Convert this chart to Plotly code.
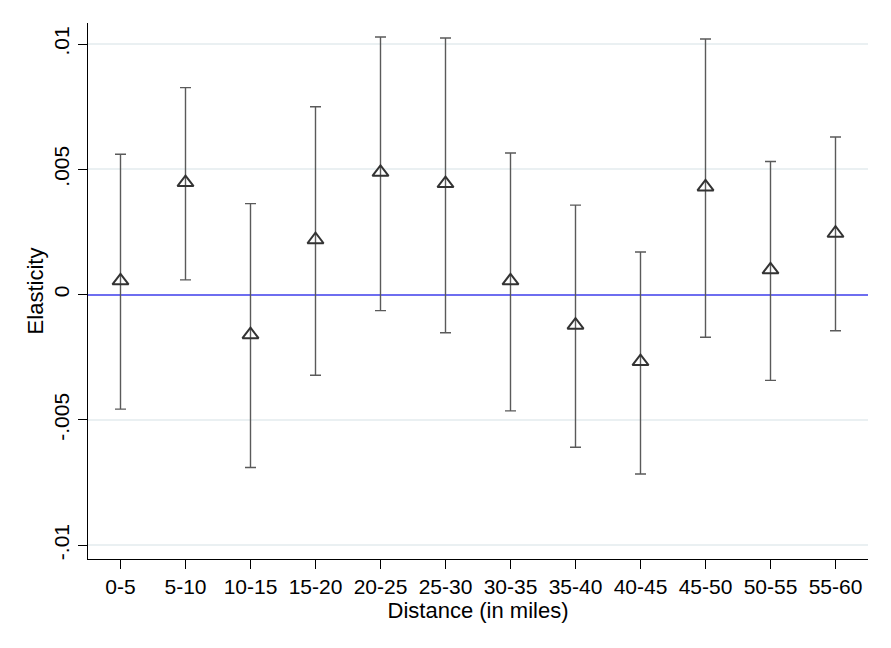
import plotly.graph_objects as go

# distance bins and estimated elasticities with 95% bounds
distance_bins = ['0-5', '5-10', '10-15', '15-20', '20-25', '25-30',
                 '30-35', '35-40', '40-45', '45-50', '50-55', '55-60']
estimate = [0.00055, 0.00447, -0.0016, 0.00219, 0.00488, 0.00443,
            0.00055, -0.00122, -0.00267, 0.0043, 0.00099, 0.00245]
upper = [0.0056, 0.00826, 0.00363, 0.0075, 0.01028, 0.01024,
         0.00565, 0.00357, 0.0017, 0.0102, 0.00531, 0.00629]
lower = [-0.00457, 0.00059, -0.0069, -0.00322, -0.00064, -0.00152,
         -0.00464, -0.00609, -0.00716, -0.0017, -0.00342, -0.00144]

y_ticks = [-0.01, -0.005, 0, 0.005, 0.01]
y_tick_labels = ['-.01', '-.005', '0', '.005', '.01']

err_plus = [h - e for h, e in zip(upper, estimate)]
err_minus = [e - l for e, l in zip(estimate, lower)]

fig = go.Figure()
fig.add_trace(go.Scatter(
    x=distance_bins, y=estimate, mode='markers',
    marker=dict(symbol='triangle-up-open', size=14, color='#333333',
                line=dict(width=2, color='#333333')),
    error_y=dict(type='data', array=err_plus, arrayminus=err_minus,
                 color='#5a5a5a', thickness=1.4, width=5.5),
    showlegend=False,
))

# page body has an 8px margin, so the figure is sized to fit the window
font = 'Liberation Sans, Arial, sans-serif'
fig.update_layout(
    width=883, height=632,
    margin=dict(l=80, r=23, t=15, b=81),
    plot_bgcolor='white', paper_bgcolor='white',
    font=dict(family=font, size=21, color='black'),
)
fig.update_xaxes(
    type='category', range=[-0.5, 11.5],
    showline=True, linecolor='black', linewidth=1.3,
    ticks='outside', ticklen=9, tickwidth=1.3, tickcolor='black',
    showgrid=False,
    title=dict(text='Distance (in miles)', font=dict(size=22), standoff=0),
)
fig.update_yaxes(
    range=[-0.01055, 0.01084],
    tickvals=y_ticks, ticktext=y_tick_labels, tickangle=-90,
    showline=True, linecolor='black', linewidth=1.3,
    ticks='outside', ticklen=9, tickwidth=1.3, tickcolor='black',
    showgrid=True, gridcolor='#eaf0f2', gridwidth=2,
    zeroline=True, zerolinecolor='rgb(110,110,240)', zerolinewidth=2,
    title=dict(text='Elasticity', font=dict(size=22), standoff=0),
)

fig.write_html('out.html')
